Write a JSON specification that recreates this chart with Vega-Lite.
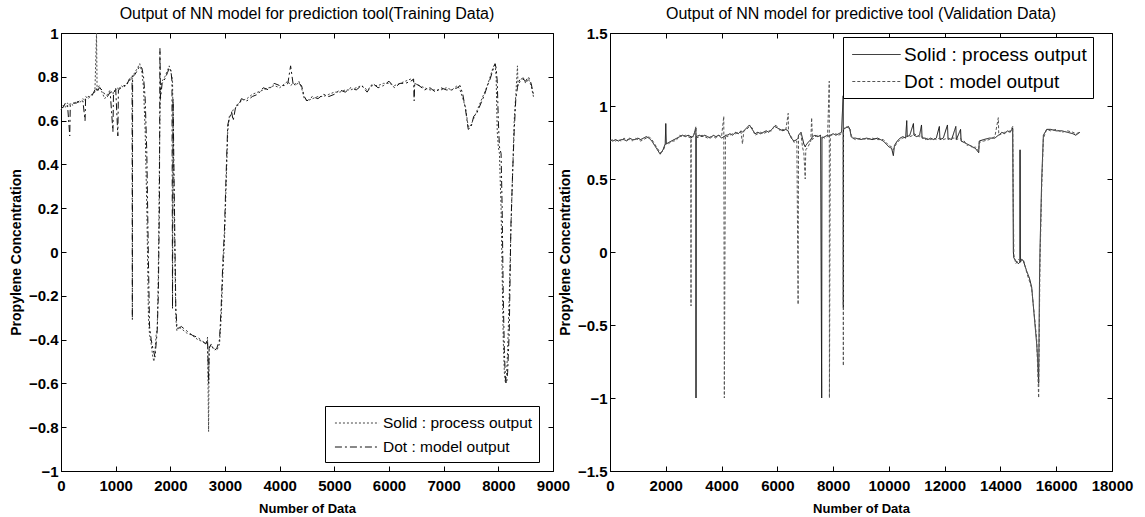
{
  "$schema": "https://vega.github.io/schema/vega-lite/v6.json",
  "background": "white",
  "padding": {"left": 8, "top": 5, "right": 10, "bottom": 2},
  "spacing": 57,
  "bounds": "flush",
  "resolve": {"scale": {"color": "independent", "strokeDash": "independent"}, "legend": {"color": "independent", "strokeDash": "independent"}},
  "config": {
    "font": "Liberation Sans",
    "view": {"stroke": "black", "strokeWidth": 1},
    "axis": {"grid": false, "domainColor": "black", "tickColor": "black", "tickSize": -5, "labelColor": "black", "titleColor": "black", "labelFontWeight": 700},
    "legend": {"strokeColor": "black", "fillColor": "white", "cornerRadius": 0, "labelLimit": 400}
  },
  "datasets": {
    "train": [
      {"x":0,"p":0.65,"m":0.66},{"x":40,"p":0.67,"m":0.66},{"x":80,"p":0.66,"m":0.68},{"x":120,"p":0.68,"m":0.67},{"x":160,"p":0.67,"m":0.53},{"x":170,"p":0.68,"m":0.67},{"x":220,"p":0.67,"m":0.68},{"x":280,"p":0.69,"m":0.68},{"x":340,"p":0.68,"m":0.69},{"x":400,"p":0.70,"m":0.69},{"x":440,"p":0.69,"m":0.60},{"x":450,"p":0.71,"m":0.70},{"x":500,"p":0.70,"m":0.71},{"x":560,"p":0.72,"m":0.71},{"x":620,"p":0.73,"m":0.74},{"x":650,"p":1.0,"m":0.75},{"x":660,"p":0.74,"m":0.73},{"x":700,"p":0.76,"m":0.75},{"x":750,"p":0.73,"m":0.74},{"x":800,"p":0.70,"m":0.72},{"x":850,"p":0.72,"m":0.71},{"x":900,"p":0.74,"m":0.73},{"x":950,"p":0.72,"m":0.55},{"x":960,"p":0.73,"m":0.72},{"x":1000,"p":0.74,"m":0.75},{"x":1040,"p":0.75,"m":0.53},{"x":1050,"p":0.74,"m":0.74},{"x":1100,"p":0.76,"m":0.75},{"x":1150,"p":0.75,"m":0.76},{"x":1200,"p":0.77,"m":0.76},{"x":1250,"p":0.78,"m":0.79},{"x":1300,"p":0.80,"m":0.80},{"x":1305,"p":0.81,"m":-0.31},{"x":1310,"p":0.80,"m":0.80},{"x":1350,"p":0.82,"m":0.81},{"x":1400,"p":0.84,"m":0.83},{"x":1440,"p":0.86,"m":0.85},{"x":1480,"p":0.82,"m":0.84},{"x":1510,"p":0.75,"m":0.80},{"x":1540,"p":0.55,"m":0.70},{"x":1570,"p":0.20,"m":0.45},{"x":1600,"p":-0.30,"m":-0.05},{"x":1620,"p":-0.38,"m":-0.34},{"x":1650,"p":-0.42,"m":-0.40},{"x":1680,"p":-0.48,"m":-0.44},{"x":1700,"p":-0.50,"m":-0.46},{"x":1720,"p":-0.45,"m":-0.48},{"x":1740,"p":-0.38,"m":-0.42},{"x":1760,"p":-0.35,"m":-0.36},{"x":1780,"p":-0.10,"m":-0.20},{"x":1800,"p":0.40,"m":0.20},{"x":1810,"p":0.60,"m":0.93},{"x":1820,"p":0.74,"m":0.70},{"x":1850,"p":0.78,"m":0.77},{"x":1900,"p":0.80,"m":0.79},{"x":1950,"p":0.83,"m":0.82},{"x":1980,"p":0.85,"m":0.84},{"x":2010,"p":0.82,"m":0.83},{"x":2030,"p":0.80,"m":0.78},{"x":2040,"p":0.78,"m":-0.26},{"x":2050,"p":0.60,"m":0.70},{"x":2070,"p":0.20,"m":0.30},{"x":2100,"p":-0.30,"m":-0.25},{"x":2120,"p":-0.36,"m":-0.34},{"x":2150,"p":-0.34,"m":-0.35},{"x":2200,"p":-0.35,"m":-0.34},{"x":2300,"p":-0.37,"m":-0.36},{"x":2400,"p":-0.38,"m":-0.38},{"x":2500,"p":-0.40,"m":-0.39},{"x":2600,"p":-0.41,"m":-0.41},{"x":2650,"p":-0.42,"m":-0.42},{"x":2680,"p":-0.40,"m":-0.39},{"x":2700,"p":-0.82,"m":-0.60},{"x":2710,"p":-0.43,"m":-0.44},{"x":2750,"p":-0.43,"m":-0.42},{"x":2800,"p":-0.44,"m":-0.45},{"x":2850,"p":-0.45,"m":-0.44},{"x":2900,"p":-0.42,"m":-0.40},{"x":2930,"p":-0.30,"m":-0.25},{"x":2960,"p":-0.10,"m":-0.05},{"x":2990,"p":0.05,"m":0.10},{"x":3020,"p":0.30,"m":0.35},{"x":3050,"p":0.55,"m":0.58},{"x":3080,"p":0.62,"m":0.61},{"x":3120,"p":0.63,"m":0.64},{"x":3150,"p":0.65,"m":0.60},{"x":3200,"p":0.66,"m":0.67},{"x":3250,"p":0.68,"m":0.67},{"x":3300,"p":0.69,"m":0.70},{"x":3400,"p":0.70,"m":0.69},{"x":3500,"p":0.72,"m":0.71},{"x":3600,"p":0.73,"m":0.72},{"x":3700,"p":0.74,"m":0.75},{"x":3800,"p":0.75,"m":0.74},{"x":3900,"p":0.76,"m":0.77},{"x":4000,"p":0.75,"m":0.76},{"x":4100,"p":0.77,"m":0.76},{"x":4150,"p":0.78,"m":0.77},{"x":4200,"p":0.76,"m":0.85},{"x":4250,"p":0.77,"m":0.76},{"x":4300,"p":0.76,"m":0.77},{"x":4350,"p":0.78,"m":0.77},{"x":4400,"p":0.75,"m":0.76},{"x":4450,"p":0.70,"m":0.71},{"x":4500,"p":0.69,"m":0.69},{"x":4600,"p":0.70,"m":0.71},{"x":4700,"p":0.71,"m":0.70},{"x":4800,"p":0.71,"m":0.72},{"x":4900,"p":0.72,"m":0.71},{"x":5000,"p":0.73,"m":0.72},{"x":5100,"p":0.73,"m":0.74},{"x":5200,"p":0.74,"m":0.73},{"x":5300,"p":0.74,"m":0.75},{"x":5400,"p":0.75,"m":0.74},{"x":5500,"p":0.76,"m":0.76},{"x":5600,"p":0.74,"m":0.73},{"x":5700,"p":0.76,"m":0.77},{"x":5800,"p":0.76,"m":0.75},{"x":5900,"p":0.77,"m":0.76},{"x":6000,"p":0.77,"m":0.78},{"x":6100,"p":0.76,"m":0.75},{"x":6200,"p":0.77,"m":0.77},{"x":6300,"p":0.78,"m":0.77},{"x":6400,"p":0.79,"m":0.78},{"x":6450,"p":0.78,"m":0.79},{"x":6460,"p":0.77,"m":0.69},{"x":6470,"p":0.77,"m":0.77},{"x":6550,"p":0.76,"m":0.76},{"x":6650,"p":0.75,"m":0.74},{"x":6750,"p":0.74,"m":0.75},{"x":6850,"p":0.74,"m":0.73},{"x":6950,"p":0.74,"m":0.75},{"x":7050,"p":0.75,"m":0.74},{"x":7150,"p":0.74,"m":0.74},{"x":7250,"p":0.76,"m":0.75},{"x":7300,"p":0.74,"m":0.76},{"x":7350,"p":0.70,"m":0.72},{"x":7400,"p":0.66,"m":0.65},{"x":7450,"p":0.57,"m":0.56},{"x":7500,"p":0.58,"m":0.57},{"x":7550,"p":0.61,"m":0.62},{"x":7600,"p":0.64,"m":0.63},{"x":7650,"p":0.67,"m":0.66},{"x":7700,"p":0.70,"m":0.69},{"x":7750,"p":0.73,"m":0.72},{"x":7800,"p":0.76,"m":0.76},{"x":7850,"p":0.80,"m":0.79},{"x":7900,"p":0.84,"m":0.83},{"x":7940,"p":0.86,"m":0.86},{"x":7960,"p":0.80,"m":0.84},{"x":7980,"p":0.55,"m":0.78},{"x":8000,"p":0.48,"m":0.60},{"x":8020,"p":0.45,"m":0.48},{"x":8050,"p":0.20,"m":0.45},{"x":8070,"p":-0.10,"m":0.20},{"x":8090,"p":-0.40,"m":-0.20},{"x":8110,"p":-0.55,"m":-0.45},{"x":8130,"p":-0.60,"m":-0.58},{"x":8150,"p":-0.56,"m":-0.60},{"x":8170,"p":-0.45,"m":-0.55},{"x":8200,"p":-0.20,"m":-0.36},{"x":8230,"p":0.10,"m":0.12},{"x":8260,"p":0.35,"m":0.35},{"x":8290,"p":0.60,"m":0.55},{"x":8320,"p":0.72,"m":0.70},{"x":8350,"p":0.85,"m":0.75},{"x":8360,"p":0.76,"m":0.77},{"x":8400,"p":0.78,"m":0.79},{"x":8450,"p":0.80,"m":0.79},{"x":8500,"p":0.77,"m":0.78},{"x":8550,"p":0.79,"m":0.80},{"x":8600,"p":0.76,"m":0.77},{"x":8650,"p":0.70,"m":0.71}
    ],
    "valid": [
      {"x":0,"p":0.77,"m":0.76},{"x":100,"p":0.76,"m":0.77},{"x":200,"p":0.77,"m":0.76},{"x":300,"p":0.76,"m":0.77},{"x":400,"p":0.77,"m":0.76},{"x":500,"p":0.77,"m":0.78},{"x":600,"p":0.76,"m":0.77},{"x":700,"p":0.78,"m":0.77},{"x":800,"p":0.77,"m":0.76},{"x":900,"p":0.77,"m":0.78},{"x":1000,"p":0.78,"m":0.77},{"x":1100,"p":0.77,"m":0.76},{"x":1200,"p":0.78,"m":0.77},{"x":1300,"p":0.79,"m":0.78},{"x":1400,"p":0.78,"m":0.79},{"x":1500,"p":0.76,"m":0.77},{"x":1600,"p":0.73,"m":0.74},{"x":1700,"p":0.70,"m":0.71},{"x":1800,"p":0.67,"m":0.68},{"x":1900,"p":0.70,"m":0.69},{"x":1980,"p":0.74,"m":0.73},{"x":2000,"p":0.88,"m":0.74},{"x":2020,"p":0.74,"m":0.75},{"x":2100,"p":0.75,"m":0.74},{"x":2200,"p":0.76,"m":0.76},{"x":2300,"p":0.77,"m":0.76},{"x":2400,"p":0.78,"m":0.77},{"x":2500,"p":0.79,"m":0.80},{"x":2600,"p":0.80,"m":0.79},{"x":2700,"p":0.79,"m":0.80},{"x":2800,"p":0.80,"m":0.79},{"x":2900,"p":0.79,"m":0.78},{"x":2905,"p":0.79,"m":-0.37},{"x":2910,"p":0.78,"m":0.79},{"x":3000,"p":0.80,"m":0.79},{"x":3080,"p":0.85,"m":0.86},{"x":3084,"p":-1.0,"m":0.80},{"x":3090,"p":0.79,"m":0.78},{"x":3200,"p":0.80,"m":0.79},{"x":3300,"p":0.79,"m":0.80},{"x":3400,"p":0.80,"m":0.79},{"x":3500,"p":0.79,"m":0.78},{"x":3600,"p":0.78,"m":0.79},{"x":3700,"p":0.80,"m":0.79},{"x":3800,"p":0.79,"m":0.78},{"x":3900,"p":0.80,"m":0.80},{"x":4000,"p":0.78,"m":0.79},{"x":4080,"p":0.79,"m":0.93},{"x":4100,"p":0.79,"m":-1.0},{"x":4140,"p":0.80,"m":0.80},{"x":4200,"p":0.80,"m":0.79},{"x":4300,"p":0.81,"m":0.80},{"x":4400,"p":0.80,"m":0.81},{"x":4500,"p":0.82,"m":0.81},{"x":4600,"p":0.81,"m":0.82},{"x":4700,"p":0.83,"m":0.82},{"x":4750,"p":0.82,"m":0.74},{"x":4800,"p":0.83,"m":0.83},{"x":4900,"p":0.85,"m":0.84},{"x":5000,"p":0.87,"m":0.86},{"x":5100,"p":0.84,"m":0.85},{"x":5200,"p":0.81,"m":0.80},{"x":5300,"p":0.82,"m":0.81},{"x":5400,"p":0.81,"m":0.82},{"x":5500,"p":0.82,"m":0.81},{"x":5600,"p":0.83,"m":0.82},{"x":5700,"p":0.82,"m":0.83},{"x":5800,"p":0.84,"m":0.83},{"x":5900,"p":0.86,"m":0.87},{"x":6000,"p":0.85,"m":0.86},{"x":6100,"p":0.84,"m":0.83},{"x":6200,"p":0.83,"m":0.84},{"x":6300,"p":0.84,"m":0.83},{"x":6390,"p":0.83,"m":0.95},{"x":6400,"p":0.82,"m":0.82},{"x":6500,"p":0.78,"m":0.79},{"x":6600,"p":0.76,"m":0.75},{"x":6700,"p":0.77,"m":0.76},{"x":6745,"p":0.78,"m":-0.36},{"x":6760,"p":0.80,"m":0.79},{"x":6850,"p":0.82,"m":0.81},{"x":6900,"p":0.78,"m":0.72},{"x":6950,"p":0.74,"m":0.68},{"x":7000,"p":0.72,"m":0.50},{"x":7020,"p":0.73,"m":0.70},{"x":7100,"p":0.75,"m":0.72},{"x":7200,"p":0.77,"m":0.76},{"x":7230,"p":0.78,"m":0.92},{"x":7260,"p":0.79,"m":0.77},{"x":7350,"p":0.80,"m":0.79},{"x":7450,"p":0.79,"m":0.80},{"x":7550,"p":0.80,"m":0.79},{"x":7590,"p":-1.0,"m":0.78},{"x":7600,"p":0.78,"m":0.79},{"x":7700,"p":0.79,"m":0.78},{"x":7800,"p":0.80,"m":0.79},{"x":7862,"p":0.79,"m":1.17},{"x":7868,"p":0.80,"m":-1.0},{"x":7900,"p":0.80,"m":0.80},{"x":8000,"p":0.81,"m":0.80},{"x":8100,"p":0.80,"m":0.81},{"x":8200,"p":0.81,"m":0.80},{"x":8300,"p":0.82,"m":0.81},{"x":8362,"p":1.07,"m":0.82},{"x":8367,"p":-0.38,"m":-0.78},{"x":8372,"p":0.84,"m":0.84},{"x":8450,"p":0.85,"m":0.86},{"x":8550,"p":0.86,"m":0.85},{"x":8600,"p":0.84,"m":0.85},{"x":8650,"p":0.79,"m":0.80},{"x":8700,"p":0.78,"m":0.78},{"x":8800,"p":0.78,"m":0.77},{"x":9000,"p":0.77,"m":0.78},{"x":9200,"p":0.78,"m":0.77},{"x":9400,"p":0.77,"m":0.78},{"x":9600,"p":0.78,"m":0.77},{"x":9800,"p":0.76,"m":0.77},{"x":9900,"p":0.74,"m":0.75},{"x":10000,"p":0.72,"m":0.73},{"x":10100,"p":0.71,"m":0.72},{"x":10160,"p":0.66,"m":0.70},{"x":10200,"p":0.73,"m":0.72},{"x":10300,"p":0.76,"m":0.75},{"x":10400,"p":0.78,"m":0.77},{"x":10500,"p":0.79,"m":0.78},{"x":10600,"p":0.78,"m":0.79},{"x":10640,"p":0.90,"m":0.79},{"x":10660,"p":0.79,"m":0.80},{"x":10750,"p":0.80,"m":0.79},{"x":10880,"p":0.88,"m":0.80},{"x":10900,"p":0.80,"m":0.81},{"x":11000,"p":0.79,"m":0.80},{"x":11100,"p":0.80,"m":0.79},{"x":11170,"p":0.87,"m":0.80},{"x":11190,"p":0.78,"m":0.79},{"x":11300,"p":0.78,"m":0.77},{"x":11400,"p":0.77,"m":0.78},{"x":11500,"p":0.78,"m":0.77},{"x":11600,"p":0.77,"m":0.78},{"x":11700,"p":0.78,"m":0.77},{"x":11810,"p":0.86,"m":0.78},{"x":11830,"p":0.77,"m":0.78},{"x":11950,"p":0.78,"m":0.77},{"x":12100,"p":0.87,"m":0.78},{"x":12120,"p":0.78,"m":0.77},{"x":12250,"p":0.77,"m":0.78},{"x":12400,"p":0.86,"m":0.78},{"x":12420,"p":0.77,"m":0.77},{"x":12570,"p":0.84,"m":0.78},{"x":12590,"p":0.76,"m":0.77},{"x":12700,"p":0.75,"m":0.76},{"x":12800,"p":0.74,"m":0.73},{"x":12900,"p":0.73,"m":0.74},{"x":13000,"p":0.72,"m":0.71},{"x":13100,"p":0.71,"m":0.72},{"x":13220,"p":0.68,"m":0.69},{"x":13240,"p":0.76,"m":0.75},{"x":13400,"p":0.77,"m":0.76},{"x":13600,"p":0.78,"m":0.77},{"x":13800,"p":0.78,"m":0.79},{"x":13924,"p":0.80,"m":0.92},{"x":13940,"p":0.80,"m":0.80},{"x":14050,"p":0.82,"m":0.81},{"x":14150,"p":0.81,"m":0.82},{"x":14250,"p":0.83,"m":0.82},{"x":14350,"p":0.82,"m":0.83},{"x":14440,"p":0.85,"m":0.86},{"x":14463,"p":0.0,"m":0.30},{"x":14480,"p":-0.04,"m":-0.02},{"x":14550,"p":-0.06,"m":-0.08},{"x":14640,"p":-0.08,"m":-0.05},{"x":14700,"p":-0.07,"m":-0.06},{"x":14703,"p":0.70,"m":-0.07},{"x":14710,"p":-0.07,"m":-0.06},{"x":14760,"p":-0.05,"m":-0.06},{"x":14820,"p":-0.06,"m":-0.05},{"x":14940,"p":-0.13,"m":-0.14},{"x":15040,"p":-0.18,"m":-0.20},{"x":15120,"p":-0.24,"m":-0.25},{"x":15240,"p":-0.50,"m":-0.48},{"x":15300,"p":-0.63,"m":-0.60},{"x":15330,"p":-0.72,"m":-0.77},{"x":15370,"p":-0.90,"m":-1.0},{"x":15400,"p":-0.20,"m":-0.40},{"x":15420,"p":0.03,"m":-0.05},{"x":15480,"p":0.50,"m":0.45},{"x":15540,"p":0.80,"m":0.78},{"x":15660,"p":0.84,"m":0.84},{"x":15800,"p":0.84,"m":0.83},{"x":16000,"p":0.83,"m":0.84},{"x":16200,"p":0.83,"m":0.82},{"x":16400,"p":0.82,"m":0.83},{"x":16600,"p":0.81,"m":0.82},{"x":16700,"p":0.80,"m":0.81},{"x":16850,"p":0.82,"m":0.82}
    ]
  },
  "hconcat": [
    {
      "title": {"text": "Output of NN model for prediction tool(Training Data)", "fontSize": 16, "fontWeight": "normal", "font": "Liberation Sans", "color": "black", "offset": 4},
      "width": 492,
      "height": 438,
      "data": {"name": "train"},
      "transform": [{"fold": ["p", "m"], "as": ["s", "y"]}],
      "layer": [
        {
          "mark": {"type": "line", "strokeWidth": 1},
          "encoding": {
            "x": {"field": "x", "type": "quantitative", "scale": {"domain": [0, 9000], "nice": false}, "axis": {"title": "Number of Data", "values": [0,1000,2000,3000,4000,5000,6000,7000,8000,9000], "format": "d", "labelFontSize": 15, "labelFontWeight": 700, "labelFont": "Liberation Sans", "labelPadding": 12, "labelOverlap": false, "labelFlush": false, "titleFontSize": 13, "titleFontWeight": "bold", "titleFont": "Liberation Sans", "titlePadding": 9, "tickSize": -5, "encode": {"labels": {"update": {"fontWeight": {"value": "bold"}}}}}},
            "y": {"field": "y", "type": "quantitative", "scale": {"domain": [-1, 1], "nice": false, "zero": false}, "axis": {"title": "Propylene Concentration", "values": [-1,-0.8,-0.6,-0.4,-0.2,0,0.2,0.4,0.6,0.8,1], "labelExpr": "datum.value == 0 ? '0' : format(datum.value, '.1~f')", "labelFontSize": 15, "labelFontWeight": 700, "labelFont": "Liberation Sans", "labelPadding": 8, "labelOverlap": false, "labelFlush": false, "titleFontSize": 14, "titleFontWeight": "bold", "titleFont": "Liberation Sans", "titlePadding": 5, "tickSize": -5, "encode": {"labels": {"update": {"fontWeight": {"value": "bold"}}}}}},
            "color": {"field": "s", "type": "nominal", "scale": {"domain": ["p", "m"], "range": ["#444444", "#111111"]}, "legend": {"orient": "none", "legendX": 264, "legendY": 373, "title": null, "padding": 6, "rowPadding": 4, "labelFontSize": 15.5, "labelLimit": 400, "labelFont": "Liberation Sans", "labelColor": "black", "symbolType": "M-2.1,0H2.1", "symbolSize": 441, "symbolOffset": 15, "labelOffset": 15, "symbolStrokeWidth": 1, "labelExpr": "datum.label == 'p' ? 'Solid : process output' : 'Dot : model output'"}},
            "strokeDash": {"field": "s", "type": "nominal", "scale": {"domain": ["p", "m"], "range": [[2, 2], [7, 3, 2, 3]]}, "legend": {"orient": "none", "legendX": 264, "legendY": 373, "title": null, "padding": 6, "rowPadding": 4, "labelFontSize": 15.5, "labelLimit": 400, "labelFont": "Liberation Sans", "labelColor": "black", "symbolType": "M-2.1,0H2.1", "symbolSize": 441, "symbolOffset": 15, "labelOffset": 15, "symbolStrokeWidth": 1, "labelExpr": "datum.label == 'p' ? 'Solid : process output' : 'Dot : model output'"}}
          }
        },
        {
          "mark": {"type": "line", "opacity": 0},
          "encoding": {
            "x": {"field": "x", "type": "quantitative", "scale": {"domain": [0, 9000], "nice": false}, "axis": {"orient": "top", "title": null, "labels": false, "domain": false, "tickSize": -5, "values": [0,1000,2000,3000,4000,5000,6000,7000,8000,9000]}},
            "y": {"field": "y", "type": "quantitative", "scale": {"domain": [-1, 1], "nice": false, "zero": false}, "axis": {"orient": "right", "title": null, "labels": false, "domain": false, "tickSize": -5, "values": [-1,-0.8,-0.6,-0.4,-0.2,0,0.2,0.4,0.6,0.8,1]}}
          }
        }
      ],
      "resolve": {"axis": {"x": "independent", "y": "independent"}}
    },
    {
      "title": {"text": "Output of NN model for predictive tool (Validation Data)", "fontSize": 16, "fontWeight": "normal", "font": "Liberation Sans", "color": "black", "offset": 4},
      "width": 502,
      "height": 438,
      "data": {"name": "valid"},
      "transform": [{"fold": ["p", "m"], "as": ["s", "y"]}],
      "layer": [
        {
          "mark": {"type": "line", "strokeWidth": 1},
          "encoding": {
            "x": {"field": "x", "type": "quantitative", "scale": {"domain": [0, 18000], "nice": false}, "axis": {"title": "Number of Data", "values": [0,2000,4000,6000,8000,10000,12000,14000,16000,18000], "format": "d", "labelFontSize": 15, "labelFontWeight": 700, "labelFont": "Liberation Sans", "labelPadding": 12, "labelOverlap": false, "labelFlush": false, "titleFontSize": 13, "titleFontWeight": "bold", "titleFont": "Liberation Sans", "titlePadding": 9, "tickSize": -5, "encode": {"labels": {"update": {"fontWeight": {"value": "bold"}}}}}},
            "y": {"field": "y", "type": "quantitative", "scale": {"domain": [-1.5, 1.5], "nice": false, "zero": false}, "axis": {"title": "Propylene Concentration", "values": [-1.5,-1,-0.5,0,0.5,1,1.5], "labelExpr": "format(datum.value, '~g')", "labelFontSize": 15, "labelFontWeight": 700, "labelFont": "Liberation Sans", "labelPadding": 8, "labelOverlap": false, "labelFlush": false, "titleFontSize": 14, "titleFontWeight": "bold", "titleFont": "Liberation Sans", "titlePadding": 5, "tickSize": -5, "encode": {"labels": {"update": {"fontWeight": {"value": "bold"}}}}}},
            "color": {"field": "s", "type": "nominal", "scale": {"domain": ["p", "m"], "range": ["#111111", "#555555"]}, "legend": {"orient": "none", "legendX": 233, "legendY": 4, "title": null, "padding": 6, "rowPadding": 5, "labelFontSize": 19, "labelLimit": 400, "labelFont": "Liberation Sans", "labelColor": "black", "symbolType": "M-2.2,0H2.2", "symbolSize": 484, "symbolOffset": 16, "labelOffset": 16, "symbolStrokeWidth": 1, "labelExpr": "datum.label == 'p' ? 'Solid : process output' : 'Dot : model output'"}},
            "strokeDash": {"field": "s", "type": "nominal", "scale": {"domain": ["p", "m"], "range": [[1, 0], [3, 2]]}, "legend": {"orient": "none", "legendX": 233, "legendY": 4, "title": null, "padding": 6, "rowPadding": 5, "labelFontSize": 19, "labelLimit": 400, "labelFont": "Liberation Sans", "labelColor": "black", "symbolType": "M-2.2,0H2.2", "symbolSize": 484, "symbolOffset": 16, "labelOffset": 16, "symbolStrokeWidth": 1, "labelExpr": "datum.label == 'p' ? 'Solid : process output' : 'Dot : model output'"}}
          }
        },
        {
          "mark": {"type": "line", "opacity": 0},
          "encoding": {
            "x": {"field": "x", "type": "quantitative", "scale": {"domain": [0, 18000], "nice": false}, "axis": {"orient": "top", "title": null, "labels": false, "domain": false, "tickSize": -5, "values": [0,2000,4000,6000,8000,10000,12000,14000,16000,18000]}},
            "y": {"field": "y", "type": "quantitative", "scale": {"domain": [-1.5, 1.5], "nice": false, "zero": false}, "axis": {"orient": "right", "title": null, "labels": false, "domain": false, "tickSize": -5, "values": [-1.5,-1,-0.5,0,0.5,1,1.5]}}
          }
        }
      ],
      "resolve": {"axis": {"x": "independent", "y": "independent"}}
    }
  ]
}
